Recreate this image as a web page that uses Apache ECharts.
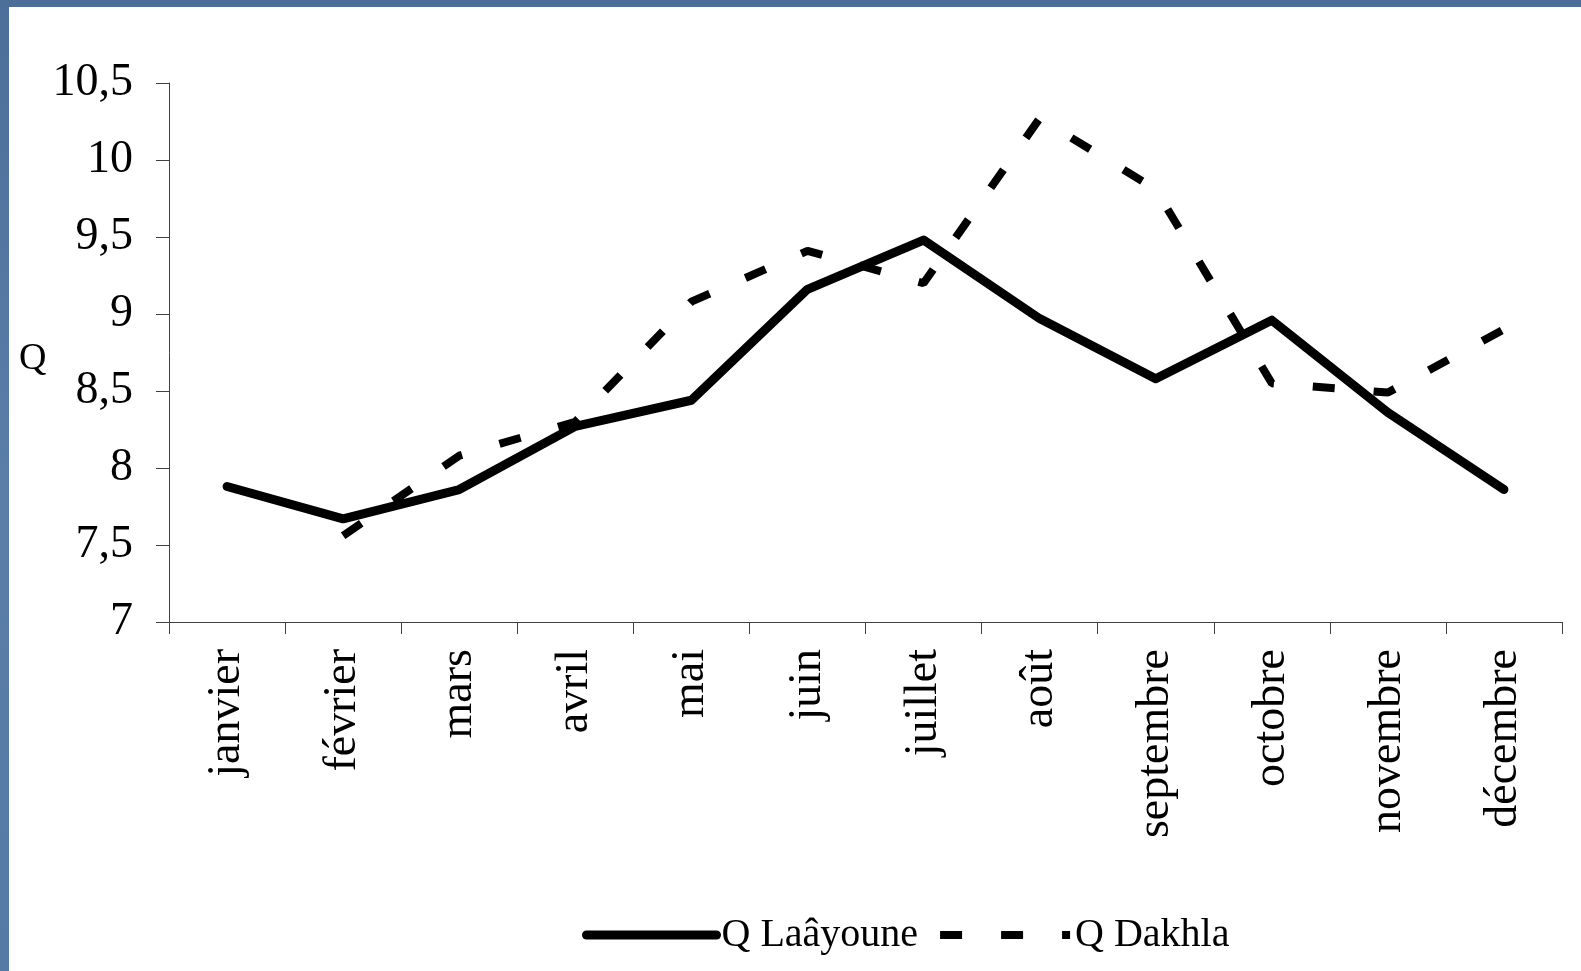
<!DOCTYPE html>
<html>
<head>
<meta charset="utf-8">
<title>Q Laâyoune / Q Dakhla</title>
<script src="https://cdn.jsdelivr.net/npm/echarts@6/dist/echarts.min.js"></script>
<style>
  html, body {
    margin: 0;
    padding: 0;
    width: 1581px;
    height: 971px;
    overflow: hidden;
    background: linear-gradient(180deg, #4b6f98 0%, #5a7ea7 50%, #557aa3 100%);
  }
  #chart {
    position: absolute;
    left: 9px;
    top: 7px;
    width: 1572px;
    height: 964px;
    background: #fff;
  }
</style>
</head>
<body>
<div id="chart"></div>
<script>
// months
const mois = ["janvier", "février", "mars", "avril", "mai", "juin",
  "juillet", "août", "septembre", "octobre", "novembre", "décembre"];

// values
const qLaayoune = [7.88, 7.67, 7.86, 8.27, 8.44, 9.16, 9.48, 8.97, 8.58, 8.96, 8.36, 7.86];
const qDakhla = [null, 7.56, 8.08, 8.3, 9.08, 9.41, 9.2, 10.27, 9.81, 8.55, 8.49, 8.9];

const serif = "'Liberation Serif', 'Times New Roman', serif";

const chart = echarts.init(document.getElementById("chart"));

const option = {
  animation: false,
  textStyle: { fontFamily: serif, color: "#000" },
  grid: {
    left: 160,
    top: 76,
    right: 19,
    bottom: 349,
  },
  // axis title "Q", placed like the original
  graphic: [
    {
      type: "text",
      left: 10,
      top: 333,
      style: { text: "Q", font: "38px " + serif, fill: "#000" },
    },
  ],
  legend: {
    left: 568,
    top: 903,
    itemWidth: 130,
    itemHeight: 14,
    itemGap: 18,
    textStyle: { fontFamily: serif, fontSize: 40, color: "#000" },
    data: [
      {
        name: "Q Laâyoune",
        itemStyle: { opacity: 0 },
        lineStyle: { width: 9, cap: "round" },
      },
      {
        name: "Q Dakhla",
        itemStyle: { opacity: 0 },
        lineStyle: { width: 8, type: [22, 39], cap: "butt" },
      },
    ],
  },
  xAxis: {
    type: "category",
    boundaryGap: true,
    data: mois,
    axisLine: { lineStyle: { color: "#404040", width: 1 } },
    axisTick: { show: true, length: 12, interval: 0, lineStyle: { color: "#404040" } },
    axisLabel: {
      interval: 0,
      rotate: 90,
      margin: 27,
      fontSize: 46,
      fontFamily: serif,
      color: "#000",
    },
  },
  yAxis: {
    type: "value",
    min: 7,
    max: 10.5,
    interval: 0.5,
    splitLine: { show: false },
    axisLine: { show: true, lineStyle: { color: "#404040", width: 1 } },
    axisTick: { show: true, length: 13, lineStyle: { color: "#404040" } },
    axisLabel: {
      margin: 36,
      fontSize: 46,
      fontFamily: serif,
      color: "#000",
      formatter: (v) => String(v).replace(".", ","),
    },
  },
  series: [
    {
      name: "Q Laâyoune",
      type: "line",
      data: qLaayoune,
      symbol: "none",
      color: "#000",
      lineStyle: { color: "#000", width: 9, cap: "round", join: "round" },
    },
    {
      name: "Q Dakhla",
      type: "line",
      data: qDakhla,
      symbol: "none",
      color: "#000",
      lineStyle: { color: "#000", width: 8, type: [22, 39], cap: "butt" },
    },
  ],
};

chart.setOption(option);
</script>
</body>
</html>
